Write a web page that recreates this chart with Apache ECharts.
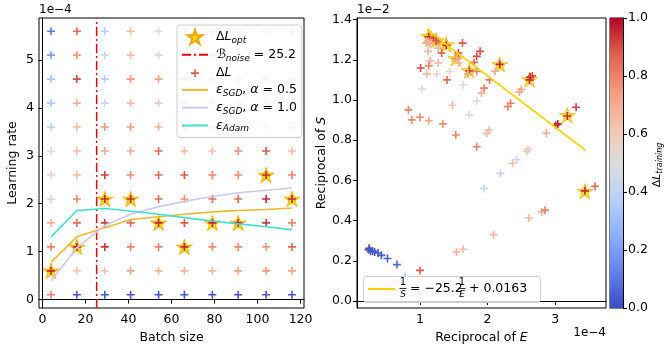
<!DOCTYPE html>
<html>
<head>
<meta charset="utf-8">
<script src="https://cdn.jsdelivr.net/npm/echarts@6/dist/echarts.min.js"></script>
<style>html,body{margin:0;padding:0;background:#fff}#chart{width:670px;height:354px}</style>
</head>
<body>
<div id="chart"></div>
<script>
// ---- left panel: grid of runs (learning rate in units of 1e-4) ----
var batchSizes = [4, 16, 29, 41, 54, 66, 79, 91, 104, 116];
var learningRates = [0.1, 0.6, 1.1, 1.6, 2.1, 2.6, 3.1, 3.6, 4.1, 4.6, 5.1, 5.6];
// normalised delta L, one row per learning rate (bottom -> top), one value per batch size
var deltaL = [
    [0.80, 0.03, 0.03, 0.03, 0.03, 0.03, 0.03, 0.03, 0.03, 0.03],
    [0.95, 0.60, 0.62, 0.72, 0.68, 0.68, 0.66, 0.72, 0.75, 0.72],
    [0.80, 0.95, 0.93, 0.80, 0.80, 0.95, 0.78, 0.78, 0.75, 0.85],
    [0.68, 0.85, 0.92, 0.85, 0.95, 0.88, 0.95, 0.95, 0.92, 0.80],
    [0.60, 0.78, 0.95, 0.95, 0.85, 0.78, 0.85, 0.85, 0.95, 0.95],
    [0.55, 0.65, 0.92, 0.78, 0.85, 0.88, 0.80, 0.78, 0.95, 0.80],
    [0.52, 0.65, 0.70, 0.70, 0.85, 0.65, 0.65, 0.78, 0.88, 0.65],
    [0.38, 0.65, 0.75, 0.75, 0.68, 0.70, 0.65, 0.62, 0.60, 0.62],
    [0.35, 0.68, 0.47, 0.65, 0.60, 0.62, 0.60, 0.62, 0.60, 0.60],
    [0.33, 0.90, 0.38, 0.75, 0.72, 0.65, 0.65, 0.62, 0.62, 0.62],
    [0.20, 0.75, 0.45, 0.65, 0.52, 0.62, 0.60, 0.62, 0.62, 0.62],
    [0.10, 0.85, 0.38, 0.65, 0.50, 0.62, 0.62, 0.60, 0.65, 0.65]
];
var optBatch = [4, 16, 29, 41, 54, 66, 79, 91, 104, 116];
var optLr = [0.6, 1.1, 2.1, 2.1, 1.6, 1.1, 1.6, 1.6, 2.6, 2.1];
var epsSgd05 = [0.78, 1.31, 1.50, 1.67, 1.73, 1.78, 1.83, 1.86, 1.88, 1.91];
var epsSgd10 = [0.39, 1.08, 1.55, 1.78, 1.94, 2.05, 2.15, 2.23, 2.28, 2.33];
var epsAdam = [1.31, 1.86, 1.90, 1.85, 1.78, 1.71, 1.64, 1.58, 1.52, 1.46];
var bNoise = 25.2;

// ---- right panel: 1/E (x 1e-4) vs 1/S (x 1e-2) ----
var recipE = [1.13, 1.24, 1.39, 1.53, 1.73, 2.18, 2.62, 3.18, 3.44, 1.17, 1.15, 1.12, 1.27, 1.12, 1.27, 1.32,
    1.57, 1.63, 1.84, 1.89, 1.80, 1.15, 1.27, 1.54, 1.57, 1.01, 1.13, 1.10, 1.25, 1.44, 1.40, 1.71,
    1.84, 1.95, 2.03, 1.91, 2.11, 1.03, 1.64, 1.84, 1.73, 1.48, 0.83, 0.88, 1.00, 1.13, 1.34, 1.53,
    1.84, 1.99, 2.02, 2.30, 2.34, 2.47, 2.50, 2.63, 2.66, 2.87, 3.01, 3.04, 3.31, 2.37, 2.43, 2.58,
    2.60, 2.19, 1.95, 3.59, 2.61, 2.80, 2.85, 2.09, 1.54, 1.64, 0.24, 0.25, 0.27, 0.30, 0.33, 0.38,
    0.43, 0.52, 0.66, 0.78, 1.00, 0.55, 0.66, 0.90, 0.94, 0.99, 1.20, 1.09];
var recipS = [1.315, 1.296, 1.272, 1.205, 1.145, 1.177, 1.100, 0.920, 0.548, 1.300, 1.280, 1.291, 1.291, 1.242, 1.258, 1.234,
    1.234, 1.283, 1.217, 1.242, 1.187, 1.195, 1.184, 1.200, 1.184, 1.159, 1.170, 1.130, 1.129, 1.142, 1.100, 1.130,
    1.142, 1.059, 1.100, 1.034, 1.143, 1.055, 1.075, 0.995, 0.926, 0.974, 0.951, 0.901, 0.914, 0.897, 0.881, 0.826,
    0.767, 0.834, 0.851, 0.967, 0.984, 1.040, 1.052, 1.114, 1.120, 0.836, 0.874, 0.881, 0.964, 0.685, 0.703, 0.744,
    0.755, 0.635, 0.560, 0.571, 0.413, 0.443, 0.452, 0.330, 0.244, 0.257, 0.255, 0.262, 0.247, 0.248, 0.244, 0.239,
    0.227, 0.211, 0.181, 0.122, 0.152, 0.072, 0.094, 0.027, 0.032, 0.032, 1.310, 1.285];
var dlRight = [0.95, 0.93, 0.95, 0.80, 0.92, 0.95, 0.95, 0.95, 0.95, 0.75, 0.68, 0.68, 0.85, 0.68, 0.68, 0.88,
    0.90, 0.88, 0.90, 0.90, 0.85, 0.68, 0.66, 0.68, 0.66, 0.90, 0.78, 0.66, 0.55, 0.55, 0.85, 0.70,
    0.80, 0.80, 0.82, 0.68, 0.70, 0.52, 0.50, 0.52, 0.52, 0.65, 0.80, 0.78, 0.78, 0.72, 0.78, 0.80,
    0.80, 0.65, 0.65, 0.80, 0.80, 0.70, 0.72, 0.95, 0.90, 0.70, 0.92, 0.95, 0.92, 0.65, 0.42, 0.62,
    0.60, 0.42, 0.42, 0.85, 0.66, 0.68, 0.80, 0.66, 0.68, 0.65, 0.03, 0.03, 0.03, 0.03, 0.03, 0.03,
    0.03, 0.05, 0.08, 0.35, 0.88, 0.65, 0.60, 0.45, 0.45, 0.45, 0.90, 0.70];
var optRecipE = [1.13, 1.17, 1.24, 1.39, 1.53, 1.73, 2.18, 2.62, 3.18, 3.44];
var optRecipS = [1.318, 1.305, 1.296, 1.276, 1.207, 1.147, 1.177, 1.102, 0.924, 0.546];
var fitRecipE = [1.10, 3.45];
var fitRecipS = [1.35, 0.75];

var colorbarTicks = [0, 0.2, 0.4, 0.6, 0.8, 1.0];
var coolwarm = ['#3b4cc0', '#6282ea', '#8db0fe', '#b8d0f9', '#dddddd', '#f5c4ad', '#f49a7b', '#de604d', '#b40426'];

var FONT = 'DejaVu Sans';
var plusPath = 'path://M4,0H6V4H10V6H6V10H4V6H0V4H4Z';
var starPath = 'path://M50,0L61.23,34.55L97.55,34.55L68.17,55.9L79.39,90.45L50,69.1L20.61,90.45L31.83,55.9L2.45,34.55L38.77,34.55Z';

var gridData = [];
learningRates.forEach(function (lr, i) {
    batchSizes.forEach(function (b, j) {
        gridData.push([b, lr, deltaL[i][j]]);
    });
});
function zip(a, b) { return a.map(function (v, i) { return [v, b[i]]; }); }
var rightData = recipE.map(function (v, i) { return [v, recipS[i], dlRight[i]]; });

var chart = echarts.init(document.getElementById('chart'));

function valueAxis(gridIndex, min, max, ticks, fmt, extra) {
    var ax = {
        type: 'value', gridIndex: gridIndex, min: min, max: max,
        axisLine: {show: true, lineStyle: {color: '#000', width: 1}},
        axisTick: {show: true, length: 4, lineStyle: {color: '#000'}, customValues: ticks},
        axisLabel: {color: '#000', fontFamily: FONT, fontSize: 12.5, margin: 5, customValues: ticks, formatter: fmt},
        splitLine: {show: false},
        nameTextStyle: {color: '#000', fontFamily: FONT, fontSize: 12.5, rich: {i: {fontStyle: 'italic', fontFamily: FONT, fontSize: 12.5}}}
    };
    for (var k in extra) ax[k] = extra[k];
    return ax;
}

var legendLabels = {
    opt: '{n|Δ}{i|L}{s|opt}',
    noise: '{i|ℬ}{s|noise}{n| = 25.2}',
    dl: '{n|Δ}{i|L}',
    sgd05: '{i|ε}{s|SGD}{n|, }{i|α}{n| = 0.5}',
    sgd10: '{i|ε}{s|SGD}{n|, }{i|α}{n| = 1.0}',
    adam: '{i|ε}{s|Adam}'
};
var noDot = {color: 'rgba(0,0,0,0)', borderWidth: 0};

var option = {
    animation: false,
    grid: [
        {left: 39, top: 18, width: 265, height: 290, show: true, borderColor: '#000', borderWidth: 1},
        {left: 357, top: 18, width: 249, height: 290, show: true, borderColor: '#000', borderWidth: 1},
        {left: 610, top: 18, width: 13, height: 290, show: true, borderColor: '#000', borderWidth: 1}
    ],
    xAxis: [
        valueAxis(0, -1.6, 121.6, [0, 20, 40, 60, 80, 100, 120], null,
            {name: 'Batch size', nameLocation: 'middle', nameGap: 23}),
        valueAxis(1, 0.069, 3.752, [1, 2, 3], null,
            {name: 'Reciprocal of {i|E}', nameLocation: 'middle', nameGap: 23}),
        {type: 'category', gridIndex: 2, data: ['c'], show: false}
    ],
    yAxis: [
        valueAxis(0, -0.175, 5.875, [0, 1, 2, 3, 4, 5], null,
            {name: 'Learning rate', nameLocation: 'middle', nameGap: 20}),
        valueAxis(1, -0.035, 1.408, [0, 0.2, 0.4, 0.6, 0.8, 1.0, 1.2, 1.4],
            function (v) { return v.toFixed(1); },
            {name: 'Reciprocal of {i|S}', nameLocation: 'middle', nameGap: 27}),
        valueAxis(2, 0, 1, colorbarTicks, function (v) { return v.toFixed(1); }, {position: 'right'})
    ],
    visualMap: {
        type: 'continuous', show: false, min: 0, max: 1, dimension: 2,
        seriesIndex: [2, 6], inRange: {color: coolwarm}
    },
    legend: {
        orient: 'vertical', left: 177, top: 25, padding: [4, 5, 4, 4], itemGap: 3.3,
        itemWidth: 26, itemHeight: 14,
        backgroundColor: 'rgba(255,255,255,0.8)', borderColor: '#cccccc', borderWidth: 1, borderRadius: 3,
        data: [
            'opt',
            {name: 'noise', itemStyle: noDot},
            {name: 'dl', icon: 'path://M0,0h0.1v0.1h-0.1z M20,20h0.1v0.1h-0.1z M8.9,4.35H11.2V8.9H15.75V11.2H11.2V15.75H8.9V11.2H4.35V8.9H8.9Z',
                itemStyle: {color: '#d6604d'}},
            {name: 'sgd05', itemStyle: noDot},
            {name: 'sgd10', itemStyle: noDot},
            {name: 'adam', itemStyle: noDot}
        ],
        formatter: function (name) { return legendLabels[name]; },
        textStyle: {
            color: '#000', fontFamily: FONT, fontSize: 12.5, padding: [0, 0, 0, 3],
            rich: {
                n: {fontFamily: FONT, fontSize: 12.5, lineHeight: 16},
                i: {fontFamily: FONT, fontSize: 12.5, fontStyle: 'italic', lineHeight: 16},
                s: {fontFamily: FONT, fontSize: 9, fontStyle: 'italic', lineHeight: 9, verticalAlign: 'bottom'}
            }
        }
    },
    series: [
        {   // 0 optimum stars (left)
            name: 'opt', type: 'scatter', xAxisIndex: 0, yAxisIndex: 0, z: 2,
            symbol: starPath, symbolKeepAspect: true, symbolSize: 16,
            itemStyle: {color: '#ffd700', borderColor: '#eaa800', borderWidth: 0.8, opacity: 1},
            data: zip(optBatch, optLr)
        },
        {   // 1 noise scale
            name: 'noise', type: 'line', xAxisIndex: 0, yAxisIndex: 0, z: 4,
            symbol: 'none', color: '#e8000b',
            lineStyle: {color: '#e8000b', width: 1.5, type: [9, 3, 2, 3]},
            data: [[bNoise, -0.175], [bNoise, 5.875]]
        },
        {   // 2 delta L grid
            name: 'dl', type: 'scatter', xAxisIndex: 0, yAxisIndex: 0, z: 3,
            symbol: plusPath, symbolSize: 8, itemStyle: {opacity: 1},
            data: gridData
        },
        {   // 3
            name: 'sgd05', type: 'line', xAxisIndex: 0, yAxisIndex: 0, z: 5, symbol: 'none',
            color: '#f3b52b', lineStyle: {color: '#f3b52b', width: 1.6},
            data: zip(batchSizes, epsSgd05)
        },
        {   // 4
            name: 'sgd10', type: 'line', xAxisIndex: 0, yAxisIndex: 0, z: 5, symbol: 'none',
            color: '#c9c9f2', lineStyle: {color: '#c9c9f2', width: 1.6},
            data: zip(batchSizes, epsSgd10)
        },
        {   // 5
            name: 'adam', type: 'line', xAxisIndex: 0, yAxisIndex: 0, z: 5, symbol: 'none',
            color: '#40e0d0', lineStyle: {color: '#40e0d0', width: 1.6},
            data: zip(batchSizes, epsAdam)
        },
        {   // 6 right scatter
            name: 'dlR', type: 'scatter', xAxisIndex: 1, yAxisIndex: 1, z: 3,
            symbol: plusPath, symbolSize: 8, itemStyle: {opacity: 1},
            data: rightData
        },
        {   // 7 right stars
            name: 'optR', type: 'scatter', xAxisIndex: 1, yAxisIndex: 1, z: 2,
            symbol: starPath, symbolKeepAspect: true, symbolSize: 16,
            itemStyle: {color: '#ffd700', borderColor: '#eaa800', borderWidth: 0.8},
            data: zip(optRecipE, optRecipS)
        },
        {   // 8 fit line
            name: 'fit', type: 'line', xAxisIndex: 1, yAxisIndex: 1, z: 4, symbol: 'none',
            lineStyle: {color: '#ffd000', width: 1.6},
            data: zip(fitRecipE, fitRecipS)
        },
        {   // 9 colorbar
            name: 'cbar', type: 'bar', xAxisIndex: 2, yAxisIndex: 2, barWidth: '100%',
            itemStyle: {
                color: new echarts.graphic.LinearGradient(0, 1, 0, 0, coolwarm.map(function (c, i) {
                    return {offset: i / (coolwarm.length - 1), color: c};
                }))
            },
            data: [1]
        }
    ],
    graphic: [
        {type: 'text', left: 39, top: 4, style: {text: '1e−4', font: '12px "DejaVu Sans"', fill: '#000'}},
        {type: 'text', left: 357, top: 4, style: {text: '1e−2', font: '12px "DejaVu Sans"', fill: '#000'}},
        {type: 'text', right: 64, top: 327, style: {text: '1e−4', font: '12px "DejaVu Sans"', fill: '#000'}},
        {type: 'text', x: 657, y: 165, rotation: Math.PI / 2, style: {
            text: '{n|Δ}{i|L}{s|training}', align: 'center', verticalAlign: 'middle',
            rich: {
                n: {fontFamily: FONT, fontSize: 11, lineHeight: 14},
                i: {fontFamily: FONT, fontSize: 11, fontStyle: 'italic', lineHeight: 14},
                s: {fontFamily: FONT, fontSize: 8, fontStyle: 'italic', lineHeight: 8, verticalAlign: 'bottom'}
            }
        }},
        // legend of the right panel
        {type: 'group', z: 100, children: [
            {type: 'rect', z: 100, shape: {x: 363.5, y: 276.5, width: 177, height: 26, r: 3},
                style: {fill: 'rgba(255,255,255,0.8)', stroke: '#cccccc', lineWidth: 1}},
            {type: 'line', z: 101, shape: {x1: 368, y1: 289, x2: 395, y2: 289}, style: {stroke: '#ffd000', lineWidth: 2}},
            {type: 'text', z: 101, x: 403, y: 282.5, style: {text: '1', font: '10px "DejaVu Sans"', fill: '#000', align: 'center', verticalAlign: 'middle'}},
            {type: 'line', z: 101, shape: {x1: 399.5, y1: 288.5, x2: 406.5, y2: 288.5}, style: {stroke: '#000', lineWidth: 0.8}},
            {type: 'text', z: 101, x: 403, y: 295, style: {text: 'S', font: 'italic 9px "DejaVu Sans"', fill: '#000', align: 'center', verticalAlign: 'middle'}},
            {type: 'text', z: 101, x: 410, y: 289, style: {text: '= −25.2', font: '12.5px "DejaVu Sans"', fill: '#000', verticalAlign: 'middle'}},
            {type: 'text', z: 101, x: 462, y: 282.5, style: {text: '1', font: '10px "DejaVu Sans"', fill: '#000', align: 'center', verticalAlign: 'middle'}},
            {type: 'line', z: 101, shape: {x1: 458.5, y1: 288.5, x2: 465.5, y2: 288.5}, style: {stroke: '#000', lineWidth: 0.8}},
            {type: 'text', z: 101, x: 462, y: 295, style: {text: 'E', font: 'italic 9px "DejaVu Sans"', fill: '#000', align: 'center', verticalAlign: 'middle'}},
            {type: 'text', z: 101, x: 469, y: 289, style: {text: '+ 0.0163', font: '12.5px "DejaVu Sans"', fill: '#000', verticalAlign: 'middle'}}
        ]}
    ]
};

chart.setOption(option);
</script>
</body>
</html>
